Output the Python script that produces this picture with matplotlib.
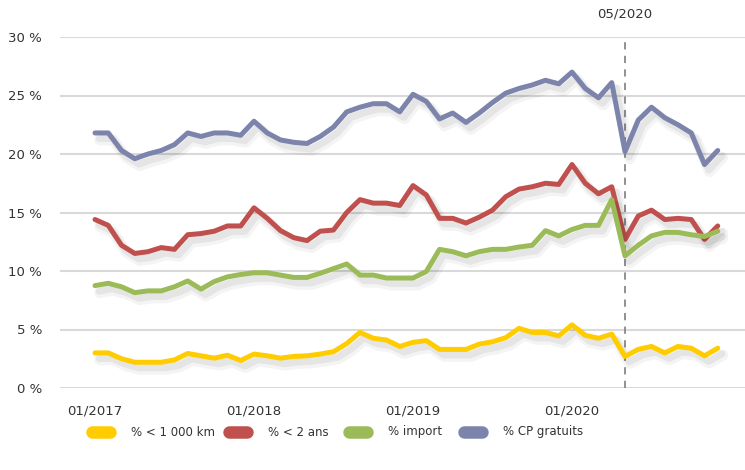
import numpy as np
import matplotlib.pyplot as plt
import matplotlib.patheffects as pe
from matplotlib.lines import Line2D

# mois de 01/2017 a 12/2020
mois = [f"{m:02d}/{a}" for a in range(2017, 2021) for m in range(1, 13)]

km1000 = [3.0, 3.0, 2.5, 2.2, 2.2, 2.2, 2.4, 2.95, 2.75, 2.55, 2.8, 2.35,
          2.9, 2.75, 2.55, 2.7, 2.75, 2.9, 3.1, 3.8, 4.75, 4.25, 4.1, 3.55,
          3.9, 4.05, 3.3, 3.3, 3.3, 3.75, 3.95, 4.3, 5.1, 4.75, 4.75, 4.45,
          5.4, 4.5, 4.25, 4.6, 2.7, 3.3, 3.55, 3.0, 3.55, 3.4, 2.75, 3.4]
ans2 = [14.4, 13.9, 12.2, 11.5, 11.65, 12.0, 11.85, 13.1, 13.2, 13.4, 13.85, 13.85,
        15.4, 14.5, 13.45, 12.85, 12.6, 13.4, 13.5, 15.0, 16.1, 15.8, 15.8, 15.6,
        17.3, 16.5, 14.5, 14.5, 14.1, 14.6, 15.2, 16.35, 17.0, 17.2, 17.5, 17.4,
        19.1, 17.5, 16.6, 17.2, 12.7, 14.7, 15.2, 14.4, 14.5, 14.4, 12.7, 13.85]
imports = [8.75, 8.95, 8.65, 8.15, 8.3, 8.3, 8.65, 9.15, 8.45, 9.1, 9.5, 9.7,
           9.85, 9.85, 9.65, 9.45, 9.45, 9.8, 10.2, 10.6, 9.65, 9.65, 9.4, 9.4,
           9.4, 9.95, 11.85, 11.65, 11.3, 11.65, 11.85, 11.85, 12.05, 12.2, 13.45, 13.0,
           13.55, 13.9, 13.9, 16.1, 11.3, 12.2, 13.0, 13.3, 13.3, 13.1, 12.95, 13.4]
cp_gratuits = [21.8, 21.8, 20.3, 19.6, 20.0, 20.3, 20.8, 21.8, 21.5, 21.8, 21.8, 21.6,
               22.8, 21.8, 21.2, 21.0, 20.9, 21.5, 22.3, 23.6, 24.0, 24.3, 24.3, 23.6,
               25.1, 24.5, 23.0, 23.5, 22.7, 23.5, 24.4, 25.2, 25.6, 25.9, 26.3, 26.0,
               27.0, 25.6, 24.8, 26.1, 20.2, 22.9, 24.0, 23.1, 22.5, 21.8, 19.1, 20.3]

series = [
    ("% < 1 000 km", km1000, "#FFCC00"),
    ("% < 2 ans", ans2, "#C0504D"),
    ("% import", imports, "#9BBB59"),
    ("% CP gratuits", cp_gratuits, "#7D84AC"),
]
ordre = [0, 2, 1, 3]  # rouge par-dessus le vert

font = ["Liberation Sans Narrow", "DejaVu Sans"]
plt.rcParams["font.family"] = font
texte = "#333333"
fs = 9.5

W, H = 745, 470
fig = plt.figure(figsize=(W / 100, H / 100), dpi=100)
ax = fig.add_axes([60 / W, 1 - 388 / H, 685 / W, 351 / H])

x = np.arange(len(mois))
ombre = [pe.SimpleLineShadow(offset=(3.5, -5), shadow_color="#000000", alpha=0.045, linewidth=8),
         pe.SimpleLineShadow(offset=(3, -4), shadow_color="#000000", alpha=0.06, linewidth=5),
         pe.Normal()]
for k in ordre:
    nom, vals, col = series[k]
    ax.plot(x, vals, color=col, lw=3.6, solid_joinstyle="round", solid_capstyle="round",
            path_effects=ombre, zorder=3 + k * 0.1)

ax.set_xlim(-35 / 13.25, (W - 95) / 13.25)
ax.set_ylim(0, 30)
ax.set_yticks(range(0, 31, 5))
ax.set_yticklabels([f"{v} %" for v in range(0, 31, 5)])
ax.yaxis.grid(True, color="#D9D9D9", lw=1.5)
ax.set_axisbelow(True)
xt = [0, 12, 24, 36]
ax.set_xticks(xt)
ax.set_xticklabels([mois[i] for i in xt])
ax.tick_params(length=0, labelsize=fs, colors=texte)
ax.tick_params(axis="y", pad=13)
ax.tick_params(axis="x", pad=12)
for s in ax.spines.values():
    s.set_visible(False)

# confinement 05/2020
i05 = mois.index("05/2020")
ax.axvline(i05, ymin=0, ymax=1, color="#888888", lw=1.3, ls=(0, (4, 3.5)), zorder=2)
ax.text(i05, 31.4, mois[i05], ha="center", va="bottom", fontsize=fs, color=texte)

# legende en bas (pastilles arrondies)
leg_x = [86, 223, 343, 458]
yl = 1 - 432 / H
for (nom, _, col), x0 in zip(series, leg_x):
    fig.add_artist(Line2D([(x0 + 6) / W, (x0 + 24) / W], [yl, yl], color=col, lw=9,
                          solid_capstyle="round", transform=fig.transFigure))
    fig.text((x0 + 45) / W, yl, nom, ha="left", va="center", fontsize=8.5, color=texte)

fig.savefig("out.png", dpi=100)
